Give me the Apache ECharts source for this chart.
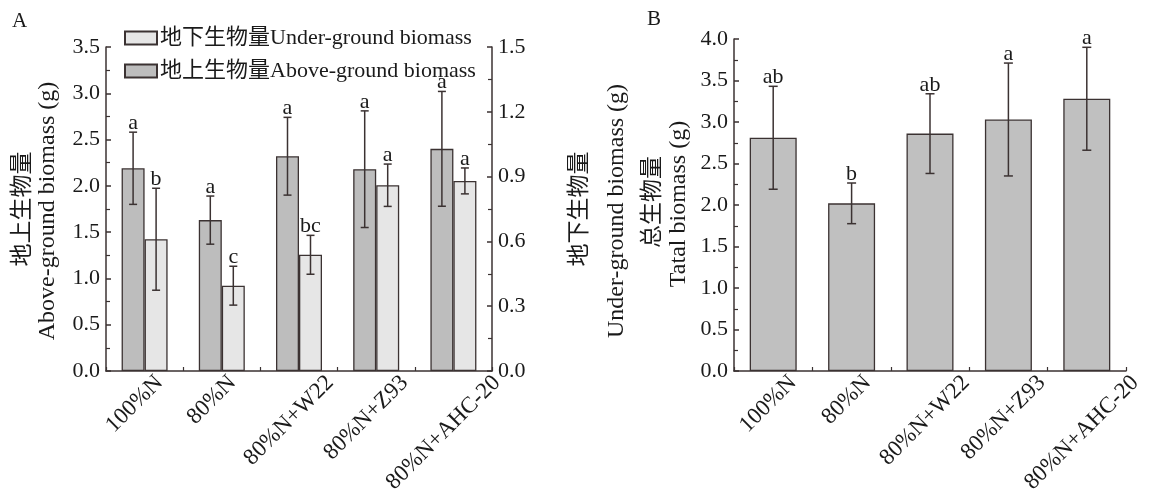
<!DOCTYPE html>
<html><head><meta charset="utf-8">
<script src="https://cdn.jsdelivr.net/npm/echarts@6/dist/echarts.min.js"></script>
<style>html,body{margin:0;padding:0;background:#fff}#c{width:1165px;height:497px}</style>
</head><body><div id="c"></div>
<script>
const categories = ['100%N', '80%N', '80%N+W22', '80%N+Z93', '80%N+AHC-20'];
const aboveMean = [2.19, 1.63, 2.32, 2.18, 2.40];
const aboveErr = [0.39, 0.26, 0.42, 0.63, 0.62];
const aboveLetters = ['a', 'a', 'a', 'a', 'a'];
const underMean = [0.61, 0.395, 0.538, 0.86, 0.88];
const underErr = [0.236, 0.09, 0.09, 0.098, 0.06];
const underLetters = ['b', 'c', 'bc', 'a', 'a'];
const totalMean = [2.81, 2.02, 2.86, 3.03, 3.28];
const totalErr = [0.62, 0.245, 0.48, 0.68, 0.62];
const totalLetters = ['ab', 'b', 'ab', 'a', 'a'];
const leftTicks = {min: 0, max: 3.5, interval: 0.5};
const rightTicks = {min: 0, max: 1.5, interval: 0.3};
const totalTicks = {min: 0, max: 4.0, interval: 0.5};

const FONT = "'Liberation Serif', 'Noto Sans CJK SC', serif";
const INK = '#3b3232';
const TXT = '#1a1a1a';
const XFS = 23;

function errData(mean, err) { return mean.map((m, i) => [i, m - err[i], m + err[i]]); }
function errRender(offset, capW, letters) {
  return function (params, api) {
    const i = api.value(0);
    const lo = api.coord([i, api.value(1)]);
    const hi = api.coord([i, api.value(2)]);
    const x = lo[0] + offset;
    const ls = {stroke: INK, lineWidth: 1.5};
    return {type: 'group', children: [
      {type: 'line', shape: {x1: x, y1: lo[1], x2: x, y2: hi[1]}, style: ls},
      {type: 'line', shape: {x1: x - capW / 2, y1: lo[1], x2: x + capW / 2, y2: lo[1]}, style: ls},
      {type: 'line', shape: {x1: x - capW / 2, y1: hi[1], x2: x + capW / 2, y2: hi[1]}, style: ls},
      {type: 'text', style: {text: letters[params.dataIndex], x: x, y: hi[1] + 2, textAlign: 'center', textVerticalAlign: 'bottom', font: '22px ' + FONT, fill: TXT}}
    ]};
  };
}

// rotated category labels placed like the original (label box centred a little left of the tick, top just under the axis)
const measureCtx = document.createElement('canvas').getContext('2d');
function labelRich(dx0) {
  measureCtx.font = XFS + 'px ' + FONT;
  const rich = {};
  const s2 = Math.SQRT2;
  categories.forEach((c, i) => {
    const L = measureCtx.measureText(c).width;
    const H = (L + XFS * 0.65) / s2;
    const dx = dx0, dy = H / 2;
    const a = (dx - dy) / s2, b = (dx + dy) / s2;
    const pad = [0, 0, 0, 0];
    if (a < 0) pad[1] = -2 * a; else pad[3] = 2 * a;
    if (b > 0) pad[0] = 2 * b; else pad[2] = -2 * b;
    rich['l' + i] = {fontSize: XFS, fontFamily: FONT, color: TXT, padding: pad};
  });
  return rich;
}

function yAxisCommon(t, pos, gi) {
  return {type: 'value', gridIndex: gi, position: pos, min: t.min, max: t.max, interval: t.interval,
    axisLine: {show: true, lineStyle: {color: INK, width: 1.5}},
    axisTick: {show: true, inside: true, length: 5, lineStyle: {color: INK, width: 1.5}},
    minorTick: {show: true, splitNumber: 2, length: 4, lineStyle: {color: INK, width: 1.2}},
    splitLine: {show: false},
    axisLabel: {color: TXT, fontSize: 22, fontFamily: FONT, margin: 6, formatter: v => v.toFixed(1)}};
}
function xAxisCommon(gi, dx0) {
  return {type: 'category', gridIndex: gi, data: categories,
    axisLine: {lineStyle: {color: INK, width: 1.5}},
    axisTick: {show: true, inside: true, length: 4, lineStyle: {color: INK, width: 1.2}},
    axisLabel: {color: TXT, fontSize: XFS, fontFamily: FONT, rotate: 45, margin: 3, interval: 0,
      align: 'center', verticalAlign: 'middle', hideOverlap: false,
      formatter: (v, i) => '{l' + i + '|' + v + '}', rich: labelRich(dx0)}};
}

const chart = echarts.init(document.getElementById('c'), null, {renderer: 'canvas'});
const vText = (txt, x, y, size) => ({type: 'text', x: x, y: y, rotation: Math.PI / 2,
  style: {text: txt, font: size + 'px ' + FONT, fill: TXT, textAlign: 'center', textVerticalAlign: 'middle'}});

chart.setOption({
  animation: false,
  backgroundColor: '#fff',
  grid: [
    {left: 106, right: 673, top: 47, bottom: 126},
    {left: 734, right: 39, top: 39, bottom: 126}
  ],
  xAxis: [xAxisCommon(0, -10), xAxisCommon(1, -5)],
  yAxis: [yAxisCommon(leftTicks, 'left', 0), yAxisCommon(rightTicks, 'right', 0), yAxisCommon(totalTicks, 'left', 1)],
  legend: {left: 119, top: 22, orient: 'vertical', itemGap: 11, itemWidth: 32, itemHeight: 13, icon: 'rect',
    data: ['地下生物量Under-ground biomass', '地上生物量Above-ground biomass'],
    textStyle: {fontSize: 22, fontFamily: FONT, color: TXT, padding: [0, 0, 0, -2]}},
  graphic: [
    {type: 'text', left: 12, top: 11, style: {text: 'A', font: '21px ' + FONT, fill: TXT}},
    {type: 'text', left: 647, top: 9, style: {text: 'B', font: '21px ' + FONT, fill: TXT}},
    vText('地上生物量', 23, 209, 23),
    vText('Above-ground biomass (g)', 48, 211, 24),
    vText('地下生物量', 580, 209, 23),
    vText('Under-ground biomass (g)', 617, 211, 24),
    vText('总生物量', 653, 202, 23),
    vText('Tatal biomass (g)', 679, 204, 24)
  ],
  series: [
    {name: '地上生物量Above-ground biomass', type: 'bar', xAxisIndex: 0, yAxisIndex: 0, data: aboveMean,
      barWidth: 23, barGap: '0%', itemStyle: {color: '#bdbdbd', borderColor: INK, borderWidth: 1.3}},
    {name: '地下生物量Under-ground biomass', type: 'bar', xAxisIndex: 0, yAxisIndex: 1, data: underMean,
      barWidth: 23, barGap: '0%', itemStyle: {color: '#e6e6e6', borderColor: INK, borderWidth: 1.3}},
    {name: 'totalBar', type: 'bar', xAxisIndex: 1, yAxisIndex: 2, data: totalMean,
      barWidth: 47, itemStyle: {color: '#c0c0c0', borderColor: INK, borderWidth: 1.3}},
    {type: 'custom', xAxisIndex: 0, yAxisIndex: 0, data: errData(aboveMean, aboveErr), clip: false, z: 5,
      renderItem: errRender(-11.5, 8, aboveLetters)},
    {type: 'custom', xAxisIndex: 0, yAxisIndex: 1, data: errData(underMean, underErr), clip: false, z: 5,
      renderItem: errRender(11.5, 8, underLetters)},
    {type: 'custom', xAxisIndex: 1, yAxisIndex: 2, data: errData(totalMean, totalErr), clip: false, z: 5,
      renderItem: errRender(0, 9, totalLetters)}
  ]
});
</script></body></html>
